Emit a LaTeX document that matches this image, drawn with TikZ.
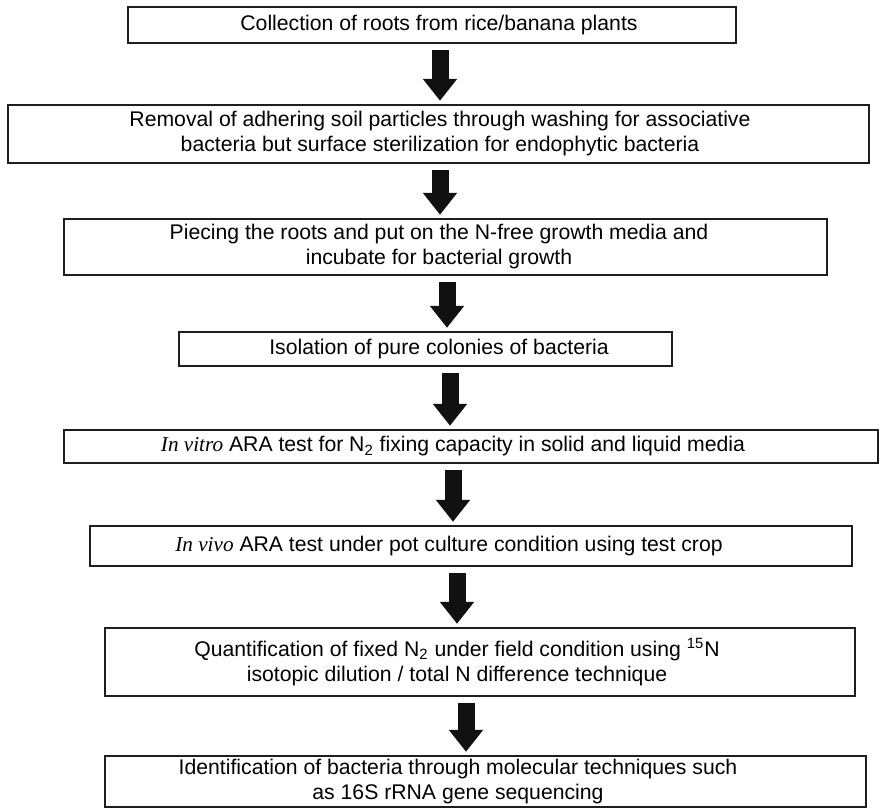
\documentclass[tikz,border=0pt]{standalone}
\usepackage{fontspec}
\setmainfont{Liberation Sans}
\newfontfamily\serifit{Liberation Serif}
\usetikzlibrary{arrows.meta}
\definecolor{rahmen}{RGB}{30,30,30}
\definecolor{pfeilfarbe}{RGB}{17,17,17}

\begin{document}
\begin{tikzpicture}[x=0.5pt, y=-0.5pt,
        stepbox/.style={draw=rahmen, line width=1.2pt, inner sep=0pt},
        steptext/.style={align=center, font=\fontsize{10.6}{12.5}\selectfont, inner sep=0pt},
        bigarrow/.style={pfeilfarbe, line width=8.5pt, -{Triangle[width=16.5pt, length=11pt]}}]

    \useasboundingbox (0,0) rectangle (880,810);

    % frames of the eight steps
    \foreach \name/\x/\y/\w/\h in {b1/432/25/304/18, b2/438.5/134/430.5/29, b3/445.5/247/381.5/28,
            b4/425.5/349/246.5/17, b5/471/446.5/407/16.5, b6/471/546/381/20,
            b7/480/662/375/34, b8/485.5/781.5/380.5/25.5}{
            \node[stepbox, minimum width=\w pt, minimum height=\h pt] (\name) at (\x,\y) {};
        }

    \node[steptext] (t1) at (439,25) {Collection of roots from rice/banana plants};
    \node[steptext] (t2) at (440,134) {Removal of adhering soil particles through washing for associative\\bacteria but surface sterilization for endophytic bacteria};
    \node[steptext] (t3) at (439,247) {Piecing the roots and put on the N-free growth media and\\incubate for bacterial growth};
    \node[steptext] (t4) at (439,349) {Isolation of pure colonies of bacteria};
    \node[steptext] (t5) at (453,446.5) {{\serifit\itshape In vitro} ARA test for N\textsubscript{2} fixing capacity in solid and liquid media};
    \node[steptext] (t6) at (449,546) {{\serifit\itshape In vivo} ARA test under pot culture condition using test crop};
    \node[steptext] (t7) at (457,662) {Quantification of fixed N\textsubscript{2} under field condition using \textsuperscript{15}N\\isotopic dilution / total N difference technique};
    \node[steptext] (t8) at (458,781.5) {Identification of bacteria through molecular techniques such\\as 16S rRNA gene sequencing};

    \foreach \von/\nach/\x in {b1/b2/440, b2/b3/440, b3/b4/447, b4/b5/450, b5/b6/453, b6/b7/457, b7/b8/466}{
            \draw[bigarrow] ([yshift=-3pt]\x,0 |- \von.south) -- ([yshift=1.5pt]\x,0 |- \nach.north);
        }

\end{tikzpicture}
\end{document}
